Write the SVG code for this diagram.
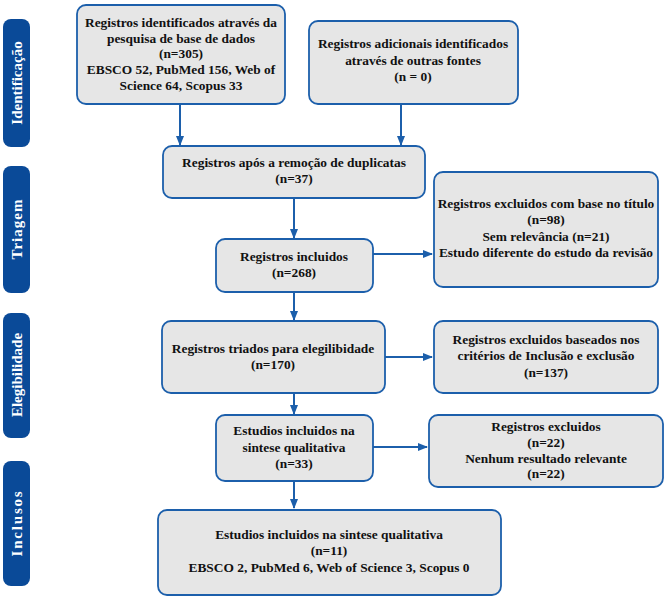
<svg xmlns="http://www.w3.org/2000/svg" width="670" height="602" viewBox="0 0 670 602">
<defs>
<style>
.box{fill:#e6e6e6;stroke:#1c5fab;stroke-width:1.8}
.side{fill:#0a4a98}
.t{font-family:'Liberation Serif','Times New Roman',serif;font-weight:700;font-size:13.4px;fill:#111;text-anchor:middle}
.st{font-family:'Liberation Serif','Times New Roman',serif;font-weight:700;font-size:15px;fill:#fff;text-anchor:middle}
.c{stroke:#1c5fab;stroke-width:2;fill:none;marker-end:url(#ah)}
</style>
<marker id="ah" markerWidth="10" markerHeight="10" refX="9" refY="5" orient="auto" markerUnits="userSpaceOnUse">
<path d="M0,1 L10,5 L0,9 Z" fill="#1c5fab"/>
</marker>
</defs>
<rect width="670" height="602" fill="#fff"/>
<g id="side-identificacao"><rect class="side" x="3" y="19" width="27" height="128" rx="8"/><text class="st" transform="translate(22,83) rotate(-90)">Identificação</text></g>
<g id="side-triagem"><rect class="side" x="3" y="166" width="27" height="127" rx="8"/><text class="st" letter-spacing="1" transform="translate(22,229) rotate(-90)">Triagem</text></g>
<g id="side-elegibilidade"><rect class="side" x="3" y="313" width="27" height="125" rx="8"/><text class="st" transform="translate(22,375) rotate(-90)">Elegibilidade</text></g>
<g id="side-inclusos"><rect class="side" x="3" y="461" width="27" height="125" rx="8"/><text class="st" letter-spacing="1.8" transform="translate(22,523) rotate(-90)">Inclusos</text></g>

<g id="connectors">
<line class="c" x1="180" y1="104" x2="180" y2="145"/>
<line class="c" x1="401" y1="104" x2="401" y2="145"/>
<line class="c" x1="294" y1="198" x2="294" y2="238"/>
<line class="c" x1="373" y1="254" x2="432" y2="254"/>
<line class="c" x1="294" y1="292" x2="294" y2="320"/>
<line class="c" x1="385" y1="357" x2="432" y2="357"/>
<line class="c" x1="294" y1="393" x2="294" y2="414"/>
<line class="c" x1="373" y1="447" x2="427" y2="447"/>
<line class="c" x1="294" y1="481" x2="294" y2="508"/>
</g>

<g id="n1"><rect class="box" x="77" y="5" width="208" height="99" rx="9"/>
<text class="t" x="181" y="27">Registros identificados através da</text>
<text class="t" x="181" y="43">pesquisa de base de dados</text>
<text class="t" x="181" y="58">(n=305)</text>
<text class="t" x="181" y="74">EBSCO 52, PubMed 156, Web of</text>
<text class="t" x="181" y="90">Science 64, Scopus 33</text></g>

<g id="n2"><rect class="box" x="309" y="21" width="209" height="83" rx="9"/>
<text class="t" x="413" y="48">Registros adicionais identificados</text>
<text class="t" x="413" y="65">através de outras fontes</text>
<text class="t" x="413" y="81">(n = 0)</text></g>

<g id="n3"><rect class="box" x="163" y="146" width="262" height="52" rx="9"/>
<text class="t" x="294" y="167">Registros após a remoção de duplicatas</text>
<text class="t" x="294" y="183">(n=37)</text></g>

<g id="n4"><rect class="box" x="216" y="239" width="157" height="53" rx="9"/>
<text class="t" x="294" y="261">Registros incluidos</text>
<text class="t" x="294" y="277">(n=268)</text></g>

<g id="n5"><rect class="box" x="434" y="172" width="224" height="115" rx="9"/>
<text class="t" x="546" y="208">Registros excluidos com base no título</text>
<text class="t" x="546" y="224">(n=98)</text>
<text class="t" x="546" y="241">Sem relevância (n=21)</text>
<text class="t" x="546" y="257">Estudo diferente do estudo da revisão</text></g>

<g id="n6"><rect class="box" x="162" y="321" width="223" height="72" rx="9"/>
<text class="t" x="273" y="353">Registros triados para elegilibidade</text>
<text class="t" x="273" y="369">(n=170)</text></g>

<g id="n7"><rect class="box" x="434" y="321" width="224" height="72" rx="9"/>
<text class="t" x="546" y="344">Registros excluidos baseados nos</text>
<text class="t" x="546" y="360">critérios de Inclusão e exclusão</text>
<text class="t" x="546" y="377">(n=137)</text></g>

<g id="n8"><rect class="box" x="216" y="415" width="157" height="66" rx="9"/>
<text class="t" x="294" y="435">Estudios incluidos na</text>
<text class="t" x="294" y="452">sintese qualitativa</text>
<text class="t" x="294" y="468">(n=33)</text></g>

<g id="n9"><rect class="box" x="429" y="415" width="234" height="72" rx="9"/>
<text class="t" x="546" y="431">Registros excluidos</text>
<text class="t" x="546" y="447">(n=22)</text>
<text class="t" x="546" y="463">Nenhum resultado relevante</text>
<text class="t" x="546" y="478">(n=22)</text></g>

<g id="n10"><rect class="box" x="158" y="510" width="343" height="85" rx="9"/>
<text class="t" x="329" y="539">Estudios incluidos na sintese qualitativa</text>
<text class="t" x="329" y="555">(n=11)</text>
<text class="t" x="329" y="572">EBSCO 2, PubMed 6, Web of Science 3, Scopus 0</text></g>
</svg>
